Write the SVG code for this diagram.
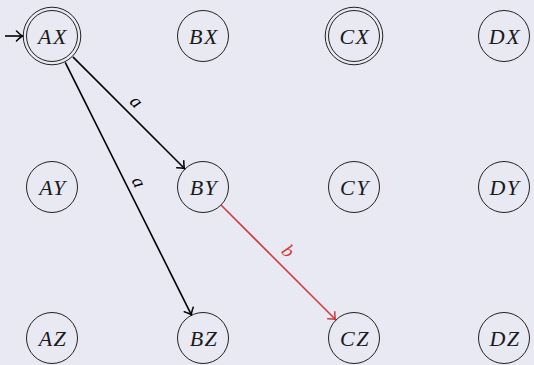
<svg xmlns="http://www.w3.org/2000/svg" width="534" height="365" viewBox="0 0 534 365">
<style>
.bg{fill:#e9e9f3}
.st circle{fill:none;stroke:#222;stroke-width:1}
.t{font-family:'Liberation Serif','DejaVu Serif',serif;font-style:italic;font-size:22px;letter-spacing:1.5px;text-anchor:middle;fill:#1a1a1a}
.e{fill:none;stroke:#000;stroke-width:1.6}
.r{stroke:#d03c3c}
.lbl{font-family:'Liberation Serif','DejaVu Serif',serif;font-style:italic;font-size:19px;text-anchor:middle}
</style>
<defs>
<marker id="ah" markerUnits="userSpaceOnUse" markerWidth="14" markerHeight="14" viewBox="-8 -7 10 14" refX="0" refY="0" orient="auto">
<path d="M-6,-5 Q-2,-1 0,0 Q-2,1 -6,5" fill="none" stroke="#000" stroke-width="1.5" stroke-linecap="round"/>
</marker>
<marker id="ahr" markerUnits="userSpaceOnUse" markerWidth="14" markerHeight="14" viewBox="-8 -7 10 14" refX="0" refY="0" orient="auto">
<path d="M-6,-5 Q-2,-1 0,0 Q-2,1 -6,5" fill="none" stroke="#d03c3c" stroke-width="1.5" stroke-linecap="round"/>
</marker>
</defs>
<rect class="bg" x="0" y="0" width="534" height="365"/>
<g id="AX" class="st"><circle cx="52" cy="36" r="25.5"/><circle cx="52" cy="36" r="28.8"/><text class="t" x="53" y="43.5">AX</text></g>
<g id="BX" class="st"><circle cx="203" cy="36" r="25.5"/><text class="t" x="204" y="43.5">BX</text></g>
<g id="CX" class="st"><circle cx="354" cy="36" r="25.5"/><circle cx="354" cy="36" r="28.8"/><text class="t" x="355" y="43.5">CX</text></g>
<g id="DX" class="st"><circle cx="504" cy="36" r="25.5"/><text class="t" x="505" y="43.5">DX</text></g>
<g id="AY" class="st"><circle cx="52" cy="187" r="25.5"/><text class="t" x="53" y="194.5">AY</text></g>
<g id="BY" class="st"><circle cx="203" cy="187" r="25.5"/><text class="t" x="204" y="194.5">BY</text></g>
<g id="CY" class="st"><circle cx="354" cy="187" r="25.5"/><text class="t" x="355" y="194.5">CY</text></g>
<g id="DY" class="st"><circle cx="504" cy="187" r="25.5"/><text class="t" x="505" y="194.5">DY</text></g>
<g id="AZ" class="st"><circle cx="52" cy="338" r="25.5"/><text class="t" x="53" y="345.5">AZ</text></g>
<g id="BZ" class="st"><circle cx="203" cy="338" r="25.5"/><text class="t" x="204" y="345.5">BZ</text></g>
<g id="CZ" class="st"><circle cx="354" cy="338" r="25.5"/><text class="t" x="355" y="345.5">CZ</text></g>
<g id="DZ" class="st"><circle cx="504" cy="338" r="25.5"/><text class="t" x="505" y="345.5">DZ</text></g>
<g id="edges">
<path class="e" d="M5,36 L22.5,36" marker-end="url(#ah)"/>
<path class="e" d="M72.9,56.9 L184.5,168.5" marker-end="url(#ah)"/>
<path class="e" d="M65.2,62.4 L191.4,314.8" marker-end="url(#ah)"/>
<path class="e r" d="M221,205 L335.5,319.5" marker-end="url(#ahr)"/>
<text class="lbl" transform="translate(135,103) rotate(45)" y="4">a</text>
<text class="lbl" transform="translate(137,183) rotate(63.43)" y="4">a</text>
<text class="lbl" transform="translate(288,251) rotate(45)" y="6" fill="#d03c3c">b</text>
</g>
</svg>
